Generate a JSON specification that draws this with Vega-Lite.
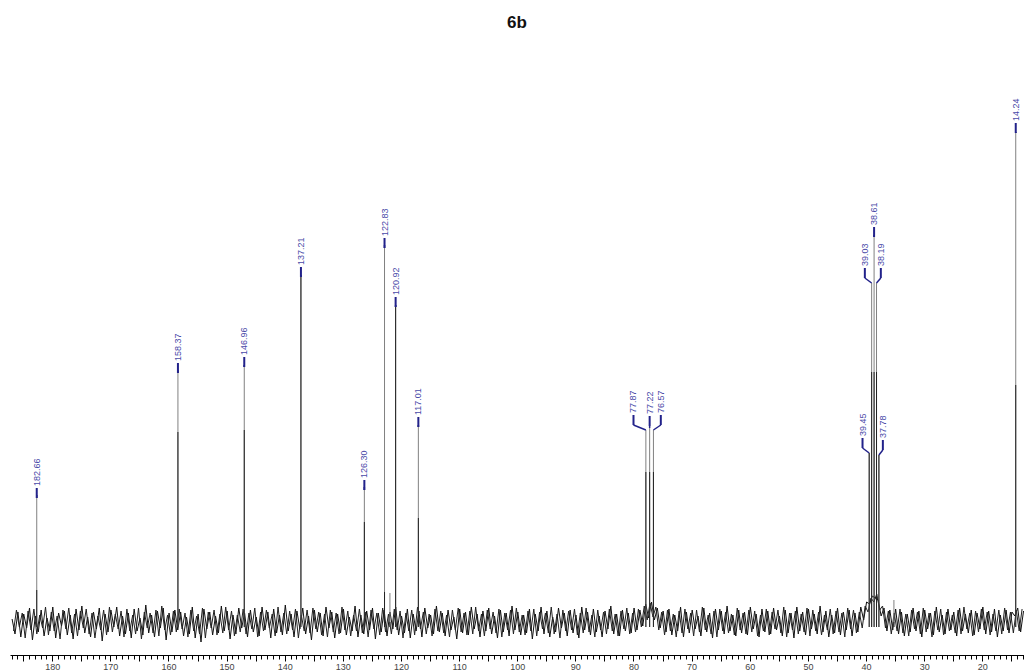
{
"$schema":"https://vega.github.io/schema/vega-lite/v6.json",
"width":1014,"height":612,
"autosize":{"type":"none"},
"padding":{"left":10,"top":40,"right":0,"bottom":20},
"background":"white",
"title":{"text":"6b","fontSize":17,"font":"Liberation Sans","fontWeight":"bold","color":"#111111","offset":8,"anchor":"middle"},
"config":{"view":{"stroke":null},"font":"Liberation Sans"},
"datasets":{
"noise":[
{"p":186.9,"v":3},{"p":186.4,"v":-12},{"p":185.9,"v":10},{"p":185.4,"v":-15},{"p":184.9,"v":8},{"p":184.4,"v":-6},{"p":183.9,"v":14},{"p":183.4,"v":-18},{"p":182.9,"v":6},{"p":182.4,"v":-10},
{"p":181.9,"v":12},{"p":181.4,"v":-14},{"p":180.9,"v":4},{"p":180.4,"v":-9},{"p":179.9,"v":15},{"p":179.4,"v":-16},{"p":178.9,"v":9},{"p":178.4,"v":-4},{"p":177.9,"v":11},{"p":177.4,"v":-13},
{"p":176.9,"v":7},{"p":176.4,"v":-17},{"p":175.9,"v":13},{"p":175.4,"v":-8},{"p":174.9,"v":16},{"p":174.4,"v":-11},{"p":173.9,"v":5},{"p":173.4,"v":-15},{"p":172.9,"v":10},{"p":172.4,"v":-7},
{"p":171.9,"v":14},{"p":171.4,"v":-19},{"p":170.9,"v":8},{"p":170.4,"v":-10},{"p":169.9,"v":12},{"p":169.4,"v":-5},{"p":168.9,"v":15},{"p":168.4,"v":-14},{"p":167.9,"v":6},{"p":167.4,"v":-12},
{"p":166.9,"v":9},{"p":166.4,"v":-16},{"p":165.9,"v":13},{"p":165.4,"v":-9},{"p":164.9,"v":4},{"p":164.4,"v":-13},{"p":163.9,"v":17},{"p":163.4,"v":-11},{"p":162.9,"v":7},{"p":162.4,"v":-15},
{"p":161.9,"v":11},{"p":161.4,"v":-6},{"p":160.9,"v":14},{"p":160.4,"v":-18},{"p":159.9,"v":9},{"p":159.4,"v":-10},{"p":158.9,"v":12},{"p":158.4,"v":-8},{"p":157.9,"v":10},{"p":157.4,"v":-14},
{"p":156.9,"v":5},{"p":156.4,"v":-12},{"p":155.9,"v":15},{"p":155.4,"v":-16},{"p":154.9,"v":8},{"p":154.4,"v":-20},{"p":153.9,"v":13},{"p":153.4,"v":-7},{"p":152.9,"v":10},{"p":152.4,"v":-13},
{"p":151.9,"v":6},{"p":151.4,"v":-11},{"p":150.9,"v":16},{"p":150.4,"v":-9},{"p":149.9,"v":11},{"p":149.4,"v":-17},{"p":148.9,"v":7},{"p":148.4,"v":-12},{"p":147.9,"v":14},{"p":147.4,"v":-6},
{"p":146.9,"v":9},{"p":146.4,"v":-15},{"p":145.9,"v":12},{"p":145.4,"v":-10},{"p":144.9,"v":5},{"p":144.4,"v":-14},{"p":143.9,"v":15},{"p":143.4,"v":-8},{"p":142.9,"v":10},{"p":142.4,"v":-16},
{"p":141.9,"v":13},{"p":141.4,"v":-11},{"p":140.9,"v":7},{"p":140.4,"v":-13},{"p":139.9,"v":17},{"p":139.4,"v":-9},{"p":138.9,"v":8},{"p":138.4,"v":-15},{"p":137.9,"v":11},{"p":137.4,"v":-7},
{"p":136.9,"v":14},{"p":136.4,"v":-12},{"p":135.9,"v":6},{"p":135.4,"v":-18},{"p":134.9,"v":12},{"p":134.4,"v":-10},{"p":133.9,"v":9},{"p":133.4,"v":-14},{"p":132.9,"v":15},{"p":132.4,"v":-6},
{"p":131.9,"v":10},{"p":131.4,"v":-16},{"p":130.9,"v":8},{"p":130.4,"v":-11},{"p":129.9,"v":13},{"p":129.4,"v":-13},{"p":128.9,"v":5},{"p":128.4,"v":-9},{"p":127.9,"v":16},{"p":127.4,"v":-15},
{"p":126.9,"v":7},{"p":126.4,"v":-12},{"p":125.9,"v":11},{"p":125.4,"v":-8},{"p":124.9,"v":14},{"p":124.4,"v":-17},{"p":123.9,"v":9},{"p":123.4,"v":-10},{"p":122.9,"v":12},{"p":122.4,"v":-14},
{"p":121.9,"v":10},{"p":121.4,"v":-7},{"p":120.9,"v":15},{"p":120.4,"v":-13},{"p":119.9,"v":6},{"p":119.4,"v":-11},{"p":118.9,"v":13},{"p":118.4,"v":-16},{"p":117.9,"v":8},{"p":117.4,"v":-9},
{"p":116.9,"v":11},{"p":116.4,"v":-15},{"p":115.9,"v":14},{"p":115.4,"v":-6},{"p":114.9,"v":7},{"p":114.4,"v":-12},{"p":113.9,"v":16},{"p":113.4,"v":-10},{"p":112.9,"v":9},{"p":112.4,"v":-14},
{"p":111.9,"v":12},{"p":111.4,"v":-8},{"p":110.9,"v":5},{"p":110.4,"v":-17},{"p":109.9,"v":13},{"p":109.4,"v":-11},{"p":108.9,"v":10},{"p":108.4,"v":-13},{"p":107.9,"v":15},{"p":107.4,"v":-7},
{"p":106.9,"v":8},{"p":106.4,"v":-15},{"p":105.9,"v":11},{"p":105.4,"v":-9},{"p":104.9,"v":14},{"p":104.4,"v":-12},{"p":103.9,"v":6},{"p":103.4,"v":-16},{"p":102.9,"v":12},{"p":102.4,"v":-10},
{"p":101.9,"v":9},{"p":101.4,"v":-14},{"p":100.9,"v":16},{"p":100.4,"v":-8},{"p":99.9,"v":10},{"p":99.4,"v":-13},{"p":98.9,"v":7},{"p":98.4,"v":-11},{"p":97.9,"v":13},{"p":97.4,"v":-17},
{"p":96.9,"v":8},{"p":96.4,"v":-9},{"p":95.9,"v":15},{"p":95.4,"v":-12},{"p":94.9,"v":11},{"p":94.4,"v":-15},{"p":93.9,"v":5},{"p":93.4,"v":-10},{"p":92.9,"v":14},{"p":92.4,"v":-6},
{"p":91.9,"v":9},{"p":91.4,"v":-14},{"p":90.9,"v":12},{"p":90.4,"v":-11},{"p":89.9,"v":7},{"p":89.4,"v":-16},{"p":88.9,"v":15},{"p":88.4,"v":-8},{"p":87.9,"v":10},{"p":87.4,"v":-13},
{"p":86.9,"v":13},{"p":86.4,"v":-10},{"p":85.9,"v":6},{"p":85.4,"v":-15},{"p":84.9,"v":11},{"p":84.4,"v":-7},{"p":83.9,"v":16},{"p":83.4,"v":-12},{"p":82.9,"v":8},{"p":82.4,"v":-14},
{"p":81.9,"v":12},{"p":81.4,"v":-9},{"p":80.9,"v":9},{"p":80.4,"v":-11},{"p":79.9,"v":14},{"p":79.4,"v":-8},{"p":78.9,"v":12},{"p":78.4,"v":-4},{"p":77.9,"v":18},{"p":77.4,"v":4},
{"p":76.9,"v":20},{"p":76.4,"v":2},{"p":75.9,"v":14},{"p":75.4,"v":-6},{"p":74.9,"v":11},{"p":74.4,"v":-10},{"p":73.9,"v":13},{"p":73.4,"v":-13},{"p":72.9,"v":7},{"p":72.4,"v":-9},
{"p":71.9,"v":15},{"p":71.4,"v":-15},{"p":70.9,"v":10},{"p":70.4,"v":-11},{"p":69.9,"v":12},{"p":69.4,"v":-7},{"p":68.9,"v":6},{"p":68.4,"v":-14},{"p":67.9,"v":14},{"p":67.4,"v":-10},
{"p":66.9,"v":9},{"p":66.4,"v":-16},{"p":65.9,"v":13},{"p":65.4,"v":-8},{"p":64.9,"v":11},{"p":64.4,"v":-12},{"p":63.9,"v":16},{"p":63.4,"v":-9},{"p":62.9,"v":7},{"p":62.4,"v":-14},
{"p":61.9,"v":12},{"p":61.4,"v":-11},{"p":60.9,"v":10},{"p":60.4,"v":-13},{"p":59.9,"v":15},{"p":59.4,"v":-7},{"p":58.9,"v":8},{"p":58.4,"v":-15},{"p":57.9,"v":13},{"p":57.4,"v":-10},
{"p":56.9,"v":11},{"p":56.4,"v":-12},{"p":55.9,"v":14},{"p":55.4,"v":-8},{"p":54.9,"v":6},{"p":54.4,"v":-14},{"p":53.9,"v":12},{"p":53.4,"v":-11},{"p":52.9,"v":9},{"p":52.4,"v":-16},
{"p":51.9,"v":15},{"p":51.4,"v":-9},{"p":50.9,"v":10},{"p":50.4,"v":-13},{"p":49.9,"v":13},{"p":49.4,"v":-7},{"p":48.9,"v":8},{"p":48.4,"v":-12},{"p":47.9,"v":16},{"p":47.4,"v":-10},
{"p":46.9,"v":11},{"p":46.4,"v":-15},{"p":45.9,"v":7},{"p":45.4,"v":-11},{"p":44.9,"v":14},{"p":44.4,"v":-13},{"p":43.9,"v":10},{"p":43.4,"v":-8},{"p":42.9,"v":12},{"p":42.4,"v":-14},
{"p":41.9,"v":9},{"p":41.4,"v":-10},{"p":40.9,"v":15},{"p":40.4,"v":2},{"p":39.9,"v":20},{"p":39.4,"v":18},{"p":38.9,"v":26},{"p":38.4,"v":24},{"p":37.9,"v":22},{"p":37.4,"v":6},
{"p":36.9,"v":14},{"p":36.4,"v":-9},{"p":35.9,"v":12},{"p":35.4,"v":-8},{"p":34.9,"v":13},{"p":34.4,"v":-12},{"p":33.9,"v":10},{"p":33.4,"v":-14},{"p":32.9,"v":8},{"p":32.4,"v":-10},
{"p":31.9,"v":14},{"p":31.4,"v":-9},{"p":30.9,"v":11},{"p":30.4,"v":-15},{"p":29.9,"v":12},{"p":29.4,"v":-7},{"p":28.9,"v":9},{"p":28.4,"v":-13},{"p":27.9,"v":15},{"p":27.4,"v":-10},
{"p":26.9,"v":7},{"p":26.4,"v":-12},{"p":25.9,"v":13},{"p":25.4,"v":-8},{"p":24.9,"v":10},{"p":24.4,"v":-14},{"p":23.9,"v":14},{"p":23.4,"v":-9},{"p":22.9,"v":8},{"p":22.4,"v":-11},
{"p":21.9,"v":12},{"p":21.4,"v":-13},{"p":20.9,"v":9},{"p":20.4,"v":-7},{"p":19.9,"v":15},{"p":19.4,"v":-12},{"p":18.9,"v":11},{"p":18.4,"v":-10},{"p":17.9,"v":13},{"p":17.4,"v":-15},
{"p":16.9,"v":7},{"p":16.4,"v":-9},{"p":15.9,"v":12},{"p":15.4,"v":-11},{"p":14.9,"v":10},{"p":14.4,"v":6},{"p":13.9,"v":14},{"p":13.4,"v":-10},{"p":12.9,"v":11}
],
"noise2":[
{"p":186.65,"v":-9},{"p":186.15,"v":12},{"p":185.65,"v":-5},{"p":185.15,"v":9},{"p":184.65,"v":-16},{"p":184.15,"v":11},{"p":183.65,"v":-8},{"p":183.15,"v":13},{"p":182.65,"v":-12},{"p":182.15,"v":7},
{"p":181.65,"v":-6},{"p":181.15,"v":15},{"p":180.65,"v":-13},{"p":180.15,"v":10},{"p":179.65,"v":-9},{"p":179.15,"v":6},{"p":178.65,"v":-17},{"p":178.15,"v":12},{"p":177.65,"v":-7},{"p":177.15,"v":14},
{"p":176.65,"v":-11},{"p":176.15,"v":8},{"p":175.65,"v":-14},{"p":175.15,"v":11},{"p":174.65,"v":-6},{"p":174.15,"v":13},{"p":173.65,"v":-12},{"p":173.15,"v":9},{"p":172.65,"v":-16},{"p":172.15,"v":6},
{"p":171.65,"v":-8},{"p":171.15,"v":12},{"p":170.65,"v":-13},{"p":170.15,"v":15},{"p":169.65,"v":-10},{"p":169.15,"v":8},{"p":168.65,"v":-7},{"p":168.15,"v":11},{"p":167.65,"v":-15},{"p":167.15,"v":13},
{"p":166.65,"v":-9},{"p":166.15,"v":7},{"p":165.65,"v":-12},{"p":165.15,"v":14},{"p":164.65,"v":-17},{"p":164.15,"v":10},{"p":163.65,"v":-6},{"p":163.15,"v":9},{"p":162.65,"v":-11},{"p":162.15,"v":12},
{"p":161.65,"v":-14},{"p":161.15,"v":16},{"p":160.65,"v":-8},{"p":160.15,"v":7},{"p":159.65,"v":-13},{"p":159.15,"v":11},{"p":158.65,"v":-10},{"p":158.15,"v":13},{"p":157.65,"v":-7},{"p":157.15,"v":9},
{"p":156.65,"v":-15},{"p":156.15,"v":12},{"p":155.65,"v":-9},{"p":155.15,"v":6},{"p":154.65,"v":-12},{"p":154.15,"v":14},{"p":153.65,"v":-16},{"p":153.15,"v":10},{"p":152.65,"v":-6},{"p":152.15,"v":12},
{"p":151.65,"v":-13},{"p":151.15,"v":8},{"p":150.65,"v":-11},{"p":150.15,"v":15},{"p":149.65,"v":-8},{"p":149.15,"v":11},{"p":148.65,"v":-14},{"p":148.15,"v":7},{"p":147.65,"v":-10},{"p":147.15,"v":13},
{"p":146.65,"v":-12},{"p":146.15,"v":9},{"p":145.65,"v":-7},{"p":145.15,"v":14},{"p":144.65,"v":-15},{"p":144.15,"v":10},{"p":143.65,"v":-9},{"p":143.15,"v":12},{"p":142.65,"v":-6},{"p":142.15,"v":8},
{"p":141.65,"v":-14},{"p":141.15,"v":15},{"p":140.65,"v":-10},{"p":140.15,"v":9},{"p":139.65,"v":-12},{"p":139.15,"v":11},{"p":138.65,"v":-8},{"p":138.15,"v":13},{"p":137.65,"v":-16},{"p":137.15,"v":7},
{"p":136.65,"v":-9},{"p":136.15,"v":12},{"p":135.65,"v":-11},{"p":135.15,"v":14},{"p":134.65,"v":-7},{"p":134.15,"v":10},{"p":133.65,"v":-13},{"p":133.15,"v":8},{"p":132.65,"v":-15},{"p":132.15,"v":12},
{"p":131.65,"v":-10},{"p":131.15,"v":9},{"p":130.65,"v":-12},{"p":130.15,"v":15},{"p":129.65,"v":-8},{"p":129.15,"v":11},{"p":128.65,"v":-14},{"p":128.15,"v":7},{"p":127.65,"v":-9},{"p":127.15,"v":13},
{"p":126.65,"v":-11},{"p":126.15,"v":10},{"p":125.65,"v":-15},{"p":125.15,"v":12},{"p":124.65,"v":-7},{"p":124.15,"v":9},{"p":123.65,"v":-13},{"p":123.15,"v":14},{"p":122.65,"v":-10},{"p":122.15,"v":8},
{"p":121.65,"v":-12},{"p":121.15,"v":13},{"p":120.65,"v":-8},{"p":120.15,"v":11},{"p":119.65,"v":-16},{"p":119.15,"v":9},{"p":118.65,"v":-9},{"p":118.15,"v":12},{"p":117.65,"v":-13},{"p":117.15,"v":15},
{"p":116.65,"v":-7},{"p":116.15,"v":10},{"p":115.65,"v":-12},{"p":115.15,"v":8},{"p":114.65,"v":-14},{"p":114.15,"v":13},{"p":113.65,"v":-9},{"p":113.15,"v":11},{"p":112.65,"v":-11},{"p":112.15,"v":7},
{"p":111.65,"v":-15},{"p":111.15,"v":12},{"p":110.65,"v":-8},{"p":110.15,"v":14},{"p":109.65,"v":-10},{"p":109.15,"v":9},{"p":108.65,"v":-13},{"p":108.15,"v":11},{"p":107.65,"v":-12},{"p":107.15,"v":15},
{"p":106.65,"v":-9},{"p":106.15,"v":8},{"p":105.65,"v":-14},{"p":105.15,"v":12},{"p":104.65,"v":-7},{"p":104.15,"v":10},{"p":103.65,"v":-11},{"p":103.15,"v":13},{"p":102.65,"v":-15},{"p":102.15,"v":9},
{"p":101.65,"v":-8},{"p":101.15,"v":12},{"p":100.65,"v":-12},{"p":100.15,"v":14},{"p":99.65,"v":-10},{"p":99.15,"v":7},{"p":98.65,"v":-13},{"p":98.15,"v":11},{"p":97.65,"v":-9},{"p":97.15,"v":13},
{"p":96.65,"v":-14},{"p":96.15,"v":10},{"p":95.65,"v":-7},{"p":95.15,"v":9},{"p":94.65,"v":-11},{"p":94.15,"v":15},{"p":93.65,"v":-12},{"p":93.15,"v":8},{"p":92.65,"v":-16},{"p":92.15,"v":12},
{"p":91.65,"v":-9},{"p":91.15,"v":11},{"p":90.65,"v":-8},{"p":90.15,"v":13},{"p":89.65,"v":-13},{"p":89.15,"v":9},{"p":88.65,"v":-11},{"p":88.15,"v":14},{"p":87.65,"v":-10},{"p":87.15,"v":7},
{"p":86.65,"v":-15},{"p":86.15,"v":12},{"p":85.65,"v":-8},{"p":85.15,"v":10},{"p":84.65,"v":-12},{"p":84.15,"v":13},{"p":83.65,"v":-9},{"p":83.15,"v":8},{"p":82.65,"v":-14},{"p":82.15,"v":11},
{"p":81.65,"v":-7},{"p":81.15,"v":14},{"p":80.65,"v":-12},{"p":80.15,"v":9},{"p":79.65,"v":-10},{"p":79.15,"v":13},{"p":78.65,"v":-5},{"p":78.15,"v":16},{"p":77.65,"v":2},{"p":77.15,"v":19},
{"p":76.65,"v":5},{"p":76.15,"v":15},{"p":75.65,"v":-8},{"p":75.15,"v":10},{"p":74.65,"v":-13},{"p":74.15,"v":12},{"p":73.65,"v":-9},{"p":73.15,"v":8},{"p":72.65,"v":-15},{"p":72.15,"v":11},
{"p":71.65,"v":-11},{"p":71.15,"v":13},{"p":70.65,"v":-7},{"p":70.15,"v":9},{"p":69.65,"v":-14},{"p":69.15,"v":12},{"p":68.65,"v":-10},{"p":68.15,"v":15},{"p":67.65,"v":-8},{"p":67.15,"v":7},
{"p":66.65,"v":-12},{"p":66.15,"v":11},{"p":65.65,"v":-15},{"p":65.15,"v":13},{"p":64.65,"v":-9},{"p":64.15,"v":10},{"p":63.65,"v":-11},{"p":63.15,"v":8},{"p":62.65,"v":-13},{"p":62.15,"v":14},
{"p":61.65,"v":-8},{"p":61.15,"v":9},{"p":60.65,"v":-12},{"p":60.15,"v":12},{"p":59.65,"v":-10},{"p":59.15,"v":11},{"p":58.65,"v":-14},{"p":58.15,"v":7},{"p":57.65,"v":-9},{"p":57.15,"v":13},
{"p":56.65,"v":-13},{"p":56.15,"v":10},{"p":55.65,"v":-7},{"p":55.15,"v":12},{"p":54.65,"v":-11},{"p":54.15,"v":15},{"p":53.65,"v":-15},{"p":53.15,"v":9},{"p":52.65,"v":-8},{"p":52.15,"v":11},
{"p":51.65,"v":-12},{"p":51.15,"v":8},{"p":50.65,"v":-10},{"p":50.15,"v":14},{"p":49.65,"v":-14},{"p":49.15,"v":12},{"p":48.65,"v":-9},{"p":48.15,"v":10},{"p":47.65,"v":-13},{"p":47.15,"v":7},
{"p":46.65,"v":-8},{"p":46.15,"v":13},{"p":45.65,"v":-12},{"p":45.15,"v":11},{"p":44.65,"v":-10},{"p":44.15,"v":9},{"p":43.65,"v":-15},{"p":43.15,"v":14},{"p":42.65,"v":-7},{"p":42.15,"v":12},
{"p":41.65,"v":-11},{"p":41.15,"v":10},{"p":40.65,"v":-6},{"p":40.15,"v":16},{"p":39.65,"v":10},{"p":39.15,"v":24},{"p":38.65,"v":20},{"p":38.15,"v":28},{"p":37.65,"v":12},{"p":37.15,"v":16},
{"p":36.65,"v":-6},{"p":36.15,"v":11},{"p":35.65,"v":-12},{"p":35.15,"v":9},{"p":34.65,"v":-9},{"p":34.15,"v":13},{"p":33.65,"v":-11},{"p":33.15,"v":8},{"p":32.65,"v":-14},{"p":32.15,"v":12},
{"p":31.65,"v":-7},{"p":31.15,"v":10},{"p":30.65,"v":-12},{"p":30.15,"v":14},{"p":29.65,"v":-10},{"p":29.15,"v":9},{"p":28.65,"v":-15},{"p":28.15,"v":11},{"p":27.65,"v":-8},{"p":27.15,"v":13},
{"p":26.65,"v":-13},{"p":26.15,"v":10},{"p":25.65,"v":-9},{"p":25.15,"v":7},{"p":24.65,"v":-11},{"p":24.15,"v":12},{"p":23.65,"v":-12},{"p":23.15,"v":15},{"p":22.65,"v":-7},{"p":22.15,"v":9},
{"p":21.65,"v":-14},{"p":21.15,"v":11},{"p":20.65,"v":-10},{"p":20.15,"v":13},{"p":19.65,"v":-8},{"p":19.15,"v":10},{"p":18.65,"v":-13},{"p":18.15,"v":8},{"p":17.65,"v":-9},{"p":17.15,"v":12},
{"p":16.65,"v":-12},{"p":16.15,"v":14},{"p":15.65,"v":-8},{"p":15.15,"v":10},{"p":14.65,"v":-11},{"p":14.15,"v":12},{"p":13.65,"v":-9},{"p":13.15,"v":13}
],
"peaks":[
{"ppm":182.66,"h":127,"h2":32,"lab":"182.66","lp":182.66,"ly":124},
{"ppm":158.37,"h":252,"h2":190,"lab":"158.37","lp":158.37,"ly":249},
{"ppm":146.96,"h":257,"h2":192,"lab":"146.96","lp":146.96,"ly":255},
{"ppm":137.21,"h":347,"h2":347,"lab":"137.21","lp":137.21,"ly":345},
{"ppm":126.30,"h":135,"h2":100,"lab":"126.30","lp":126.30,"ly":132},
{"ppm":122.83,"h":377,"h2":30,"lab":"122.83","lp":122.83,"ly":374},
{"ppm":121.9,"h":29,"h2":0},
{"ppm":120.92,"h":317,"h2":317,"lab":"120.92","lp":120.92,"ly":315},
{"ppm":117.01,"h":197,"h2":104,"lab":"117.01","lp":117.01,"ly":195},
{"ppm":77.87,"h":192,"h2":150,"lab":"77.87","lp":80.0,"ly":197},
{"ppm":77.22,"h":194,"h2":150,"lab":"77.22","lp":77.22,"ly":196},
{"ppm":76.57,"h":192,"h2":150,"lab":"76.57","lp":75.3,"ly":197},
{"ppm":39.45,"h":169,"h2":169,"lab":"39.45","lp":40.6,"ly":174},
{"ppm":39.03,"h":339,"h2":250,"lab":"39.03","lp":40.2,"ly":344},
{"ppm":38.61,"h":387,"h2":250,"lab":"38.61","lp":38.61,"ly":385},
{"ppm":38.19,"h":339,"h2":250,"lab":"38.19","lp":37.45,"ly":344},
{"ppm":37.78,"h":167,"h2":167,"lab":"37.78","lp":37.1,"ly":172},
{"ppm":35.2,"h":22,"h2":0},
{"ppm":14.24,"h":490,"h2":237,"lab":"14.24","lp":14.24,"ly":489}
]
},
"layer":[
{"data":{"name":"noise"},
 "mark":{"type":"line","color":"#111111","strokeWidth":1,"clip":true},
 "encoding":{
  "x":{"field":"p","type":"quantitative","scale":{"domain":[187.26,12.82],"nice":false,"zero":false},
   "axis":{"values":[13,14,15,16,17,18,19,20,21,22,23,24,25,26,27,28,29,30,31,32,33,34,35,36,37,38,39,40,41,42,43,44,45,46,47,48,49,50,51,52,53,54,55,56,57,58,59,60,61,62,63,64,65,66,67,68,69,70,71,72,73,74,75,76,77,78,79,80,81,82,83,84,85,86,87,88,89,90,91,92,93,94,95,96,97,98,99,100,101,102,103,104,105,106,107,108,109,110,111,112,113,114,115,116,117,118,119,120,121,122,123,124,125,126,127,128,129,130,131,132,133,134,135,136,137,138,139,140,141,142,143,144,145,146,147,148,149,150,151,152,153,154,155,156,157,158,159,160,161,162,163,164,165,166,167,168,169,170,171,172,173,174,175,176,177,178,179,180,181,182,183,184,185,186,187],
    "tickCount":400,"format":"d",
    "title":null,"grid":false,"domainColor":"#000000","domainWidth":1,"tickColor":"#000000","tickWidth":1,
    "tickSize":{"condition":{"test":"datum.value % 5 === 0","value":6},"value":4},
    "labelExpr":"datum.value % 10 === 0 ? datum.label : ''",
    "labelFontSize":9,"labelColor":"#444444","labelOverlap":false,"labelPadding":1,"offset":3,"labelFont":"Liberation Sans","labelFlush":false}},
  "y":{"field":"v","type":"quantitative","scale":{"domain":[-30,582],"nice":false,"zero":false},"axis":null}}},
{"data":{"name":"noise2"},
 "mark":{"type":"line","color":"#222222","strokeWidth":1,"clip":true},
 "encoding":{"x":{"field":"p","type":"quantitative"},"y":{"field":"v","type":"quantitative"}}},
{"data":{"name":"peaks"},
 "mark":{"type":"rule","color":"#808080","strokeWidth":1},
 "encoding":{"x":{"field":"ppm","type":"quantitative"},"y":{"field":"h","type":"quantitative"},"y2":{"datum":-5}}},
{"data":{"name":"peaks"},
 "mark":{"type":"rule","color":"#222222","strokeWidth":1},
 "encoding":{"x":{"field":"ppm","type":"quantitative"},"y":{"field":"h2","type":"quantitative"},"y2":{"datum":-5}}},
{"data":{"name":"peaks"},
 "transform":[{"filter":"isValid(datum.lab)"}],
 "mark":{"type":"rule","color":"#22228a","strokeWidth":1.5},
 "encoding":{"x":{"field":"ppm","type":"quantitative"},"y":{"field":"h","type":"quantitative"},"x2":{"field":"lp"},"y2":{"field":"ly"}}},
{"data":{"name":"peaks"},
 "transform":[{"filter":"isValid(datum.lab)"}],
 "mark":{"type":"rule","color":"#22228a","strokeWidth":2,"y2Offset":-10},
 "encoding":{"x":{"field":"lp","type":"quantitative"},"y":{"field":"ly","type":"quantitative"},"y2":{"field":"ly"}}},
{"data":{"name":"peaks"},
 "transform":[{"filter":"isValid(datum.lab)"}],
 "mark":{"type":"text","angle":270,"align":"left","baseline":"middle","dx":12,"fontSize":9,"color":"#4a4aa8","font":"Liberation Sans"},
 "encoding":{"x":{"field":"lp","type":"quantitative"},"y":{"field":"ly","type":"quantitative"},"text":{"field":"lab","type":"nominal"}}}
]
}
